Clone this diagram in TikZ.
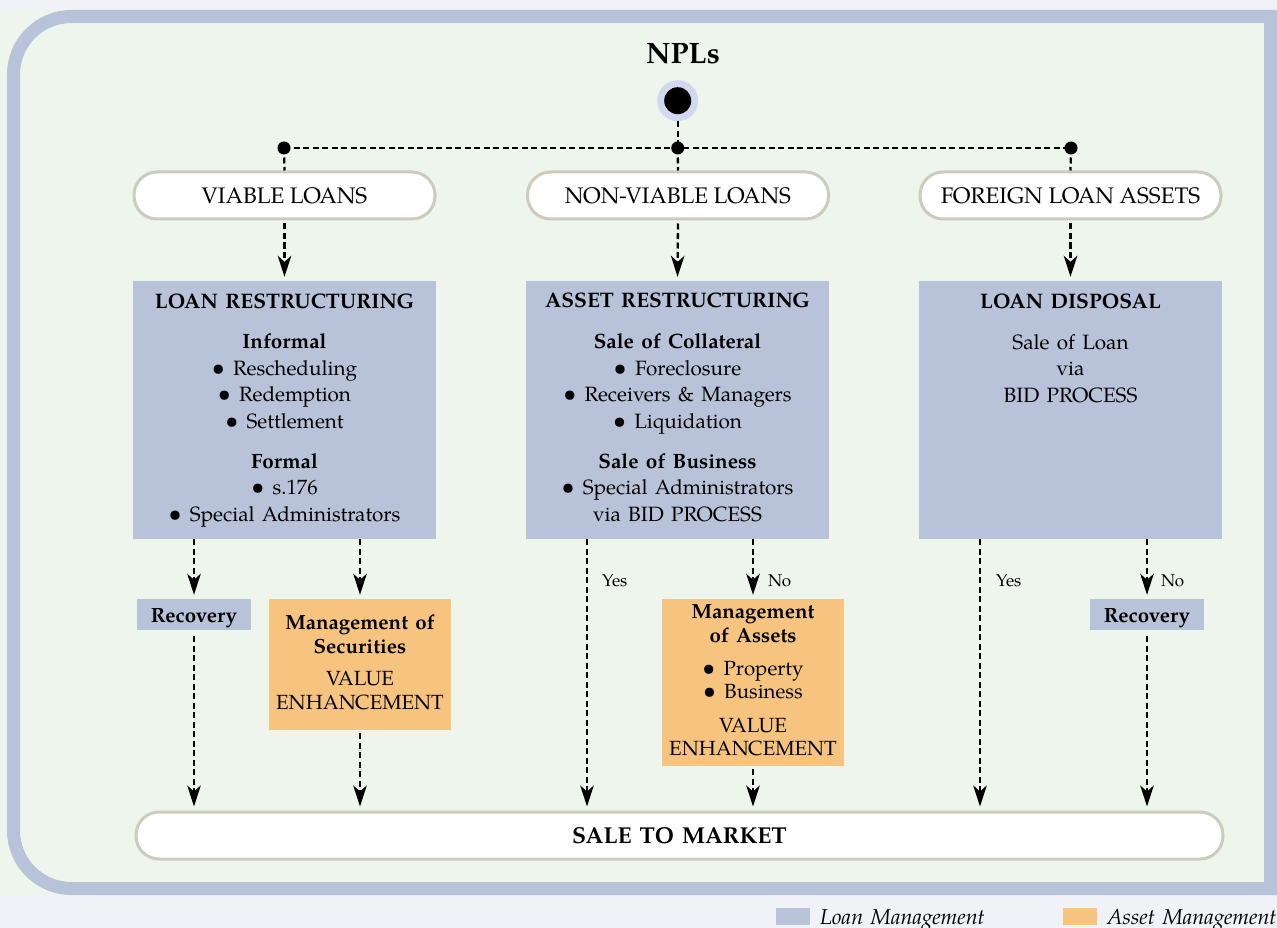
\documentclass[tikz,border=0pt]{standalone}
\usepackage{fontspec}
\usepackage{graphicx}
\setmainfont{texgyrepagella}[Extension=.otf,UprightFont=*-regular,BoldFont=*-bold,ItalicFont=*-italic,BoldItalicFont=*-bolditalic]
\usetikzlibrary{arrows.meta,calc}
\definecolor{lav}{RGB}{184,194,217}
\definecolor{greenbg}{RGB}{238,245,237}
\definecolor{pagebg}{RGB}{241,242,247}
\definecolor{orangebox}{RGB}{247,196,128}
\definecolor{pillborder}{RGB}{205,203,190}
\definecolor{halo}{RGB}{210,216,240}
\newcommand\fs[2]{\fontsize{#1}{#2}\selectfont}
\newcommand\bul{\scalebox{1.12}{\textbullet}\hspace{0.4em}}
\newcommand\wsp{\spaceskip=0.35em plus 0.1em\relax}
\begin{document}
\begin{tikzpicture}[x=1pt,y=-1pt,
  conn/.style={line width=2.3pt, dash pattern=on 6pt off 3.5pt, black},
  arr/.style={conn, -{Stealth[length=21pt,width=13.5pt,inset=6pt]}, shorten >=4pt},
  dot/.style={circle, fill=black, minimum size=13pt, inner sep=0pt},
  pill/.style={draw=pillborder, line width=3pt, fill=white, rounded corners=23pt,
    minimum height=47pt, inner sep=0pt, font=\fs{22.5}{27}},
  lbox/.style={fill=lav, inner sep=0pt},
  obox/.style={fill=orangebox, inner sep=0pt},
  btxt/.style={anchor=north, align=center, inner sep=0pt, font=\fs{20.7}{26.5}\wsp},
  ltxt/.style={anchor=base west, inner sep=0pt, font=\fs{17}{20}},
  legtxt/.style={anchor=base west, inner sep=0pt, font=\fs{21.5}{24}\itshape\wsp}
]
\useasboundingbox (0,0) rectangle (1277,928);
\fill[pagebg] (0,0) rectangle (1277,928);
\fill[greenbg] (0,10) rectangle (1277,895);
\draw[lav, line width=13pt, rounded corners=58pt] (1300,16.5) -- (13.5,16.5) -- (13.5,888.5) -- (1300,888.5);
\fill[lav] (1263.5,10) rectangle (1277,895);

% root
\node[inner sep=0pt, anchor=base, font=\fs{29.5}{34}\bfseries] (npl) at (683,64) {NPLs};
\node[circle, fill=halo, minimum size=41pt, inner sep=0pt] (root) at (677.7,100.7) {};
\node[circle, fill=black, minimum size=27pt, inner sep=0pt] (rootdot) at (root.center) {};
\node[dot] (jl) at (284,148) {};
\node[dot] (jc) at (677.7,148) {};
\node[dot] (jr) at (1071,148) {};

% pills
\node[pill, minimum width=301pt] (viable) at (284.5,195.5) {VIABLE LOANS};
\node[pill, minimum width=301pt] (nonviable) at (678,195.5) {NON-VIABLE LOANS};
\node[pill, minimum width=301pt] (foreign) at (1070.5,195.5) {FOREIGN LOAN ASSETS};

% big boxes
\node[lbox, minimum width=303pt, minimum height=258pt] (lr) at (284.5,410) {};
\node[lbox, minimum width=303pt, minimum height=258pt] (ar) at (677.5,410) {};
\node[lbox, minimum width=303pt, minimum height=258pt] (ld) at (1070.5,410) {};

\node[btxt] (lrt) at (284.5,293.5) {{\fs{21}{26.5}\bfseries LOAN RESTRUCTURING}\\[14pt]
  \textbf{Informal}\\\bul Rescheduling\\\bul Redemption\\\bul Settlement\\[13.5pt]
  \textbf{Formal}\\\bul s.176\\\bul Special Administrators};
\node[btxt] (art) at (677.5,293) {{\fs{21}{26.5}\bfseries ASSET RESTRUCTURING}\\[14.5pt]
  \textbf{Sale of Collateral}\\\bul Foreclosure\\\bul Receivers \& Managers\\\bul Liquidation\\[13.5pt]
  \textbf{Sale of Business}\\\bul Special Administrators\\via BID PROCESS};
\node[btxt] (ldt) at (1070.5,293.5) {{\fs{21}{26.5}\bfseries LOAN DISPOSAL}\\[14.5pt]
  Sale of Loan\\via\\BID PROCESS};

% lower boxes
\node[lbox, minimum width=114pt, minimum height=31pt, text height=15pt, text depth=0pt,
  font=\fs{20.5}{24}\bfseries] (rec1) at (194,614.5) {Recovery};
\node[lbox, minimum width=114pt, minimum height=31pt, text height=15pt, text depth=0pt,
  font=\fs{20.5}{24}\bfseries] (rec2) at (1147,614.5) {Recovery};
\node[obox, minimum width=182pt, minimum height=131pt] (mos) at (360,664.5) {};
\node[btxt, font=\fs{20.5}{24}\wsp] (most) at (360,614.4) {\textbf{Management of}\\\textbf{Securities}\\[8pt]VALUE\\ENHANCEMENT};
\node[obox, minimum width=182pt, minimum height=167pt] (moa) at (753,682.5) {};
\node[btxt, font=\fs{20.5}{23.5}\wsp] (moat) at (753,604.4) {\textbf{Management}\\\textbf{of Assets}\\[9.5pt]\bul Property\\\bul Business\\[10pt]VALUE\\ENHANCEMENT};

% sale to market
\node[pill, minimum width=1087pt, font=\fs{23}{27}\bfseries\wsp] (sale) at (679.5,835.5) {SALE TO MARKET};

% connectors top
\draw[conn] (root.south) -- (jc.center);
\draw[conn] (jl.center) -- (jr.center);
\draw[conn] (jl.center) -- (viable.north);
\draw[conn] (jc.center) -- (nonviable.north);
\draw[conn] (jr.center) -- (foreign.north);
\draw[arr, shorten <=3pt] (viable.south) -- (lr.north);
\draw[arr, shorten <=3pt] (nonviable.south) -- (ar.north);
\draw[arr, shorten <=3pt] (foreign.south) -- (ld.north);

% left column
\draw[arr] (lr.south -| rec1.north) -- (rec1.north);
\draw[arr] (lr.south -| mos.north) -- (mos.north);
\draw[arr, shorten <=6pt] (rec1.south) -- (rec1.south |- sale.north);
\draw[arr, shorten <=3pt] (mos.south) -- (mos.south |- sale.north);

% middle column
\coordinate (yesm) at (587,539);
\draw[arr] (yesm) -- (yesm |- sale.north);
\draw[arr] (ar.south -| moa.north) -- (moa.north);
\draw[arr, shorten <=3pt] (moa.south) -- (moa.south |- sale.north);
\node[ltxt] (yesml) at (602,586) {Yes};
\node[ltxt] (noml) at (768,586) {No};

% right column
\coordinate (yesr) at (980,539);
\draw[arr] (yesr) -- (yesr |- sale.north);
\draw[arr] (ld.south -| rec2.north) -- (rec2.north);
\draw[arr, shorten <=6pt] (rec2.south) -- (rec2.south |- sale.north);
\node[ltxt] (yesrl) at (996,586) {Yes};
\node[ltxt] (norl) at (1161,586) {No};

% legend
\node[fill=lav, minimum width=34pt, minimum height=17pt, inner sep=0pt] (leg1) at (793,916.5) {};
\node[legtxt] (leg1t) at (820,924) {Loan Management};
\node[fill=orangebox, minimum width=34pt, minimum height=17pt, inner sep=0pt] (leg2) at (1080,916.5) {};
\node[legtxt] (leg2t) at (1107,924) {Asset Management};
\end{tikzpicture}
\end{document}
